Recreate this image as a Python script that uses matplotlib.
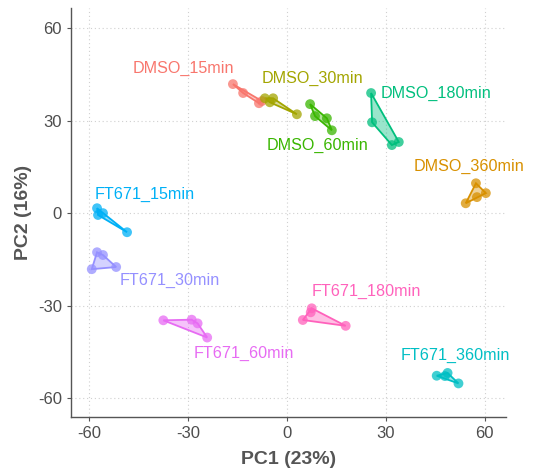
import matplotlib
matplotlib.use("Agg")
import matplotlib.pyplot as plt
import numpy as np

plt.rcParams['font.family'] = ['Liberation Sans', 'DejaVu Sans']
plt.rcParams['axes.unicode_minus'] = False

groups = ["DMSO_15min", "DMSO_360min", "DMSO_30min", "DMSO_60min", "DMSO_180min",
          "FT671_360min", "FT671_15min", "FT671_30min", "FT671_60min", "FT671_180min"]
colors = ["#F8766D", "#D89000", "#A3A500", "#39B600", "#00BF7D",
          "#00BFC4", "#00B0F6", "#9590FF", "#E76BF3", "#FF62BC"]

pc1 = {
    "DMSO_15min": [-16.4, -13.3, -8.5, -7.6],
    "DMSO_30min": [-6.7, -5.2, -4.2, 3.0],
    "DMSO_60min": [7.0, 8.5, 12.1, 13.6],
    "DMSO_180min": [25.5, 25.8, 31.8, 33.9],
    "DMSO_360min": [57.3, 60.3, 57.6, 54.2],
    "FT671_15min": [-57.6, -57.3, -55.8, -48.5],
    "FT671_30min": [-57.6, -55.8, -51.8, -59.2],
    "FT671_60min": [-37.5, -28.9, -27.1, -24.2],
    "FT671_180min": [7.5, 7.2, 4.8, 17.8],
    "FT671_360min": [45.4, 48.7, 47.9, 52.0],
}
pc2 = {
    "DMSO_15min": [41.9, 39.0, 35.7, 36.4],
    "DMSO_30min": [37.3, 36.0, 37.3, 32.1],
    "DMSO_60min": [35.4, 31.5, 30.8, 26.9],
    "DMSO_180min": [39.0, 29.5, 22.1, 23.1],
    "DMSO_360min": [9.7, 6.5, 5.2, 3.2],
    "FT671_15min": [1.6, -0.6, 0.0, -6.2],
    "FT671_30min": [-12.7, -13.6, -17.5, -18.2],
    "FT671_60min": [-34.8, -34.6, -35.8, -40.4],
    "FT671_180min": [-30.9, -32.2, -34.7, -36.6],
    "FT671_360min": [-52.8, -51.9, -52.9, -55.3],
}
# label positions (as placed in the original)
label_x = {"DMSO_15min": -31.5, "DMSO_30min": 7.6, "DMSO_180min": 45.2, "DMSO_60min": 9.4,
           "DMSO_360min": 55.3, "FT671_15min": -43.3, "FT671_30min": -35.5,
           "FT671_60min": -13.0, "FT671_180min": 24.0, "FT671_360min": 50.9}
label_y = {"DMSO_15min": 47.1, "DMSO_30min": 43.8, "DMSO_180min": 39.0, "DMSO_60min": 22.1,
           "DMSO_360min": 15.3, "FT671_15min": 6.2, "FT671_30min": -21.8,
           "FT671_60min": -45.5, "FT671_180min": -25.3, "FT671_360min": -46.1}

ticks = [-60, -30, 0, 30, 60]


def hull(pts):
    pts = sorted(set(pts))
    if len(pts) < 3:
        return pts

    def cross(o, a, b):
        return (a[0] - o[0]) * (b[1] - o[1]) - (a[1] - o[1]) * (b[0] - o[0])
    lower, upper = [], []
    for p in pts:
        while len(lower) >= 2 and cross(lower[-2], lower[-1], p) <= 0:
            lower.pop()
        lower.append(p)
    for p in reversed(pts):
        while len(upper) >= 2 and cross(upper[-2], upper[-1], p) <= 0:
            upper.pop()
        upper.append(p)
    return lower[:-1] + upper[:-1]


fig = plt.figure(figsize=(5.37, 4.73), dpi=100)
ax = fig.add_axes([0.1322, 0.1184, 0.81, 0.8646])

for g, c in zip(groups, colors):
    xs, ys = pc1[g], pc2[g]
    h = np.array(hull(list(zip(xs, ys))))
    ax.fill(h[:, 0], h[:, 1], facecolor=c, alpha=0.4, edgecolor="none", zorder=2)
    ax.fill(h[:, 0], h[:, 1], facecolor="none", edgecolor=c, lw=1.3, zorder=3)
    ax.scatter(xs, ys, s=50, color=c, alpha=0.75, edgecolors="none", zorder=4)
    ax.text(label_x[g], label_y[g], g, color=c, fontsize=11.6, ha="center", va="center", zorder=5)

ax.set_xlim(-65.5, 66.4)
ax.set_ylim(-66.2, 66.6)
ax.set_xticks(ticks)
ax.set_yticks(ticks)
ax.grid(True, color="#d0d0d0", linestyle=(0, (1, 2.5)), linewidth=0.8, zorder=0)
ax.set_axisbelow(True)
for s in ["top", "right"]:
    ax.spines[s].set_visible(False)
for s in ["left", "bottom"]:
    ax.spines[s].set_color("#555555")
    ax.spines[s].set_linewidth(1.0)
ax.tick_params(colors="#555555", labelcolor="#4D4D4D", labelsize=12, length=3, width=0.8)
ax.set_xlabel("PC1 (23%)", fontsize=14, fontweight="bold", color="#555555", labelpad=7)
ax.set_ylabel("PC2 (16%)", fontsize=14, fontweight="bold", color="#555555", labelpad=4)

fig.savefig("out.png", dpi=100)
